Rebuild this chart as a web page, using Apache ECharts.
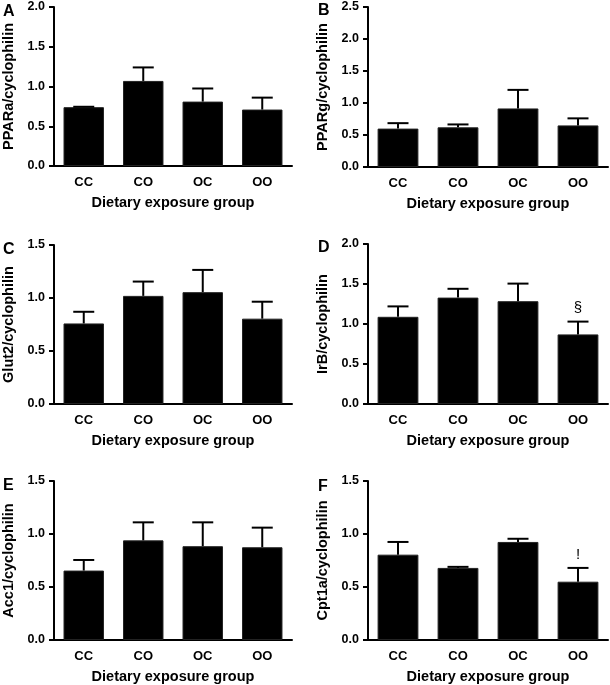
<!DOCTYPE html>
<html>
<head>
<meta charset="utf-8">
<script src="https://cdn.jsdelivr.net/npm/echarts@6/dist/echarts.min.js"></script>
<style>
html,body{margin:0;padding:0;background:#fff;}
#chart{width:610px;height:685px;}
</style>
</head>
<body>
<div id="chart"></div>
<script>
const categories = ['CC', 'CO', 'OC', 'OO'];
const xAxisTitle = 'Dietary exposure group';

const panelLetters = ['A', 'B', 'C', 'D', 'E', 'F'];
const yTitles = ['PPARa/cyclophilin', 'PPARg/cyclophilin', 'Glut2/cyclophilin', 'IrB/cyclophilin', 'Acc1/cyclophilin', 'Cpt1a/cyclophilin'];
const yMax = [2.0, 2.5, 1.5, 2.0, 1.5, 1.5];

const pparaMean = [0.74, 1.07, 0.81, 0.71];
const pparaSem = [0.005, 0.17, 0.165, 0.15];
const ppargMean = [0.60, 0.62, 0.915, 0.65];
const ppargSem = [0.085, 0.045, 0.29, 0.11];
const glut2Mean = [0.76, 1.02, 1.055, 0.805];
const glut2Sem = [0.11, 0.135, 0.21, 0.16];
const irbMean = [1.09, 1.33, 1.285, 0.87];
const irbSem = [0.13, 0.11, 0.22, 0.16];
const acc1Mean = [0.655, 0.94, 0.885, 0.875];
const acc1Sem = [0.10, 0.17, 0.225, 0.185];
const cpt1aMean = [0.805, 0.68, 0.925, 0.55];
const cpt1aSem = [0.12, 0.01, 0.03, 0.13];

const irbMarks = ['', '', '', '§'];
const cpt1aMarks = ['', '', '', '!'];
const noMarks = ['', '', '', ''];

const means = [pparaMean, ppargMean, glut2Mean, irbMean, acc1Mean, cpt1aMean];
const sems = [pparaSem, ppargSem, glut2Sem, irbSem, acc1Sem, cpt1aSem];
const marks = [noMarks, noMarks, noMarks, irbMarks, noMarks, cpt1aMarks];

const FONT = '"Liberation Sans", Arial, Helvetica, sans-serif';

const gridBoxes = [
  {left: 53, width: 239, top: 7, height: 159},
  {left: 368, width: 240, top: 7, height: 160},
  {left: 53, width: 239, top: 245, height: 159},
  {left: 368, width: 240, top: 244, height: 160},
  {left: 53, width: 239, top: 481, height: 159},
  {left: 368, width: 240, top: 481, height: 160}
];
const letterPos = [[3, 4], [318, 3], [3, 242], [318, 240], [3, 478], [318, 479]];

const grid = [], xAxis = [], yAxis = [], series = [], graphic = [];
for (let i = 0; i < 6; i++) {
  grid.push(Object.assign({containLabel: false}, gridBoxes[i]));
  xAxis.push({
    type: 'category', gridIndex: i, data: categories,
    name: xAxisTitle, nameLocation: 'middle', nameGap: 29,
    nameTextStyle: {fontFamily: FONT, fontWeight: 'bold', fontSize: 14.5, color: '#000'},
    axisLine: {lineStyle: {color: '#000', width: 2}},
    axisTick: {alignWithLabel: true, length: 5, lineStyle: {color: '#000', width: 2}},
    axisLabel: {fontFamily: FONT, fontWeight: 'bold', fontSize: 13, color: '#000', margin: 10}
  });
  yAxis.push({
    type: 'value', gridIndex: i, min: 0, max: yMax[i], interval: 0.5,
    name: yTitles[i], nameLocation: 'middle', nameGap: 38, nameRotate: 90,
    nameTextStyle: {fontFamily: FONT, fontWeight: 'bold', fontSize: 14.5, color: '#000'},
    axisLine: {show: true, lineStyle: {color: '#000', width: 2}},
    axisTick: {show: true, length: 5, lineStyle: {color: '#000', width: 2}},
    splitLine: {show: false},
    axisLabel: {fontFamily: FONT, fontWeight: 'bold', fontSize: 12.5, color: '#000', margin: 9,
      formatter: v => v.toFixed(1)}
  });
  series.push({
    type: 'bar', xAxisIndex: i, yAxisIndex: i, data: means[i], barWidth: '68%',
    itemStyle: {color: '#000', borderColor: '#222', borderWidth: 1}, silent: true, z: 2
  });
  const m = means[i], s = sems[i], mk = marks[i];
  series.push({
    type: 'custom', xAxisIndex: i, yAxisIndex: i, z: 3, silent: true,
    data: m.map((v, k) => [k, v, s[k]]),
    renderItem: function (params, api) {
      const x = api.value(0), mean = api.value(1), sem = api.value(2);
      const base = api.coord([x, mean]);
      const top = api.coord([x, mean + sem]);
      const hw = 10.5;
      const children = [
        {type: 'line', shape: {x1: base[0], y1: base[1], x2: top[0], y2: top[1]}, style: {stroke: '#000', lineWidth: 2}},
        {type: 'line', shape: {x1: top[0] - hw, y1: top[1], x2: top[0] + hw, y2: top[1]}, style: {stroke: '#000', lineWidth: 2}}
      ];
      const t = mk[params.dataIndex];
      if (t) {
        children.push({type: 'text', x: top[0], y: top[1] - 6,
          style: {text: t, fill: '#000', fontSize: 15, fontFamily: FONT, align: 'center', verticalAlign: 'bottom'}});
      }
      return {type: 'group', children: children};
    }
  });
  graphic.push({
    type: 'text', left: letterPos[i][0], top: letterPos[i][1],
    style: {text: panelLetters[i], fontFamily: FONT, fontWeight: 'bold', fontSize: 16, fill: '#000'}
  });
}

const chart = echarts.init(document.getElementById('chart'), null, {renderer: 'canvas'});
chart.setOption({
  animation: false,
  backgroundColor: '#fff',
  grid: grid, xAxis: xAxis, yAxis: yAxis, series: series, graphic: graphic
});
</script>
</body>
</html>
